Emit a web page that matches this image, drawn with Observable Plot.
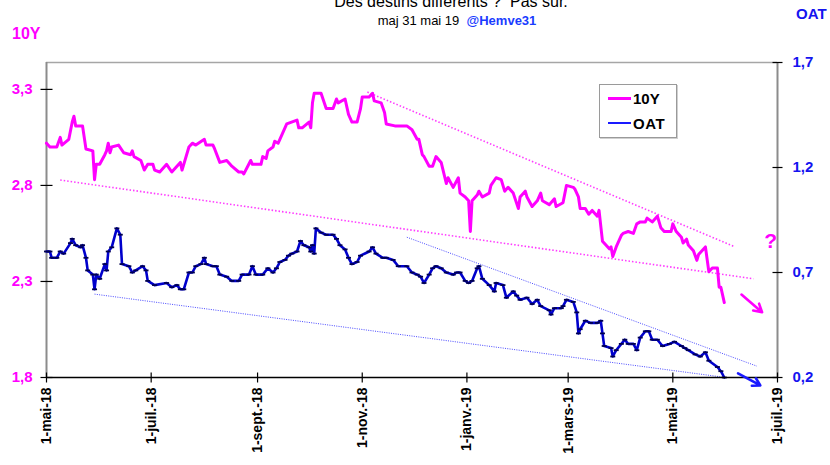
<!DOCTYPE html>
<html><head><meta charset="utf-8">
<script src="https://cdn.jsdelivr.net/npm/d3@7"></script>
<script src="https://cdn.jsdelivr.net/npm/@observablehq/plot@0.6"></script>
<style>
body{margin:0;background:#fff;font-family:"Liberation Sans",Arial,sans-serif;}
#wrap{position:relative;width:830px;height:465px;overflow:hidden;background:#fff;}
.ov{position:absolute;white-space:pre;line-height:1;}
</style></head><body><div id="wrap"></div>
<script>
// ---------- data ----------
const tenYDates = ["2018-05-01","2018-05-03","2018-05-07","2018-05-09","2018-05-10","2018-05-14","2018-05-16","2018-05-17","2018-05-18","2018-05-22","2018-05-24","2018-05-28","2018-05-29","2018-05-30","2018-06-01","2018-06-04","2018-06-05","2018-06-06","2018-06-07","2018-06-08","2018-06-12","2018-06-15","2018-06-19","2018-06-20","2018-06-21","2018-06-25","2018-06-27","2018-06-29","2018-07-02","2018-07-03","2018-07-06","2018-07-10","2018-07-13","2018-07-18","2018-07-19","2018-07-23","2018-07-25","2018-07-27","2018-08-01","2018-08-02","2018-08-06","2018-08-07","2018-08-10","2018-08-14","2018-08-16","2018-08-17","2018-08-21","2018-08-23","2018-08-24","2018-08-28","2018-08-29","2018-09-03","2018-09-04","2018-09-06","2018-09-07","2018-09-10","2018-09-11","2018-09-13","2018-09-14","2018-09-18","2018-09-24","2018-09-25","2018-09-27","2018-10-01","2018-10-02","2018-10-03","2018-10-04","2018-10-08","2018-10-11","2018-10-15","2018-10-17","2018-10-18","2018-10-22","2018-10-24","2018-10-26","2018-10-29","2018-10-31","2018-11-01","2018-11-05","2018-11-07","2018-11-08","2018-11-12","2018-11-14","2018-11-15","2018-11-20","2018-11-23","2018-11-27","2018-11-30","2018-12-03","2018-12-04","2018-12-06","2018-12-07","2018-12-10","2018-12-12","2018-12-14","2018-12-17","2018-12-20","2018-12-21","2018-12-24","2018-12-27","2018-12-28","2018-12-31","2019-01-02","2019-01-03","2019-01-04","2019-01-07","2019-01-08","2019-01-10","2019-01-14","2019-01-15","2019-01-18","2019-01-21","2019-01-23","2019-01-25","2019-01-28","2019-01-31","2019-02-01","2019-02-04","2019-02-05","2019-02-08","2019-02-11","2019-02-13","2019-02-14","2019-02-18","2019-02-21","2019-02-22","2019-02-26","2019-02-28","2019-03-04","2019-03-05","2019-03-07","2019-03-08","2019-03-11","2019-03-13","2019-03-15","2019-03-18","2019-03-19","2019-03-21","2019-03-25","2019-03-26","2019-03-27","2019-03-29","2019-04-01","2019-04-02","2019-04-05","2019-04-08","2019-04-10","2019-04-12","2019-04-15","2019-04-16","2019-04-19","2019-04-22","2019-04-24","2019-04-26","2019-04-30","2019-05-01","2019-05-03","2019-05-06","2019-05-07","2019-05-09","2019-05-10","2019-05-13","2019-05-15","2019-05-16","2019-05-20","2019-05-22","2019-05-24","2019-05-27","2019-05-28","2019-05-29","2019-05-31"];
const tenYValues = [3.02,3.00,3.00,3.05,3.01,3.04,3.13,3.16,3.11,3.11,2.99,2.98,2.83,2.91,2.91,2.96,2.98,3.02,2.97,3.00,3.01,2.97,2.96,2.98,2.95,2.93,2.88,2.91,2.91,2.88,2.87,2.91,2.87,2.92,2.88,3.00,3.02,3.01,3.04,3.01,3.01,2.99,2.92,2.93,2.91,2.90,2.87,2.87,2.86,2.93,2.91,2.91,2.95,2.94,2.98,3.00,3.03,3.02,3.04,3.12,3.14,3.10,3.10,3.13,3.10,3.23,3.28,3.28,3.20,3.20,3.25,3.23,3.25,3.17,3.13,3.13,3.20,3.26,3.26,3.28,3.24,3.23,3.18,3.12,3.11,3.11,3.11,3.09,3.04,3.04,2.96,2.95,2.90,2.90,2.95,2.92,2.81,2.84,2.79,2.84,2.76,2.74,2.72,2.56,2.72,2.75,2.77,2.74,2.76,2.80,2.84,2.83,2.77,2.79,2.76,2.68,2.74,2.77,2.74,2.69,2.72,2.76,2.72,2.70,2.73,2.69,2.71,2.80,2.79,2.78,2.74,2.68,2.68,2.65,2.67,2.64,2.67,2.51,2.47,2.48,2.43,2.48,2.54,2.55,2.56,2.55,2.60,2.61,2.61,2.63,2.61,2.64,2.58,2.56,2.56,2.60,2.56,2.53,2.50,2.52,2.49,2.46,2.41,2.44,2.48,2.35,2.37,2.37,2.27,2.27,2.19];

const oatDates = ["2018-05-01","2018-05-03","2018-05-04","2018-05-07","2018-05-09","2018-05-11","2018-05-15","2018-05-16","2018-05-18","2018-05-21","2018-05-22","2018-05-24","2018-05-25","2018-05-28","2018-05-29","2018-05-30","2018-06-01","2018-06-04","2018-06-05","2018-06-06","2018-06-08","2018-06-11","2018-06-13","2018-06-14","2018-06-18","2018-06-20","2018-06-22","2018-06-26","2018-06-28","2018-06-29","2018-07-03","2018-07-10","2018-07-13","2018-07-16","2018-07-18","2018-07-20","2018-07-23","2018-07-25","2018-07-27","2018-07-30","2018-08-01","2018-08-02","2018-08-06","2018-08-08","2018-08-10","2018-08-14","2018-08-17","2018-08-21","2018-08-23","2018-08-27","2018-08-29","2018-08-31","2018-09-04","2018-09-07","2018-09-10","2018-09-12","2018-09-14","2018-09-17","2018-09-19","2018-09-21","2018-09-24","2018-09-26","2018-09-28","2018-10-01","2018-10-02","2018-10-03","2018-10-04","2018-10-05","2018-10-08","2018-10-11","2018-10-15","2018-10-17","2018-10-19","2018-10-22","2018-10-24","2018-10-26","2018-10-29","2018-10-31","2018-11-05","2018-11-07","2018-11-09","2018-11-13","2018-11-15","2018-11-19","2018-11-22","2018-11-27","2018-11-30","2018-12-03","2018-12-05","2018-12-07","2018-12-10","2018-12-12","2018-12-14","2018-12-17","2018-12-20","2018-12-24","2018-12-26","2018-12-28","2018-12-31","2019-01-02","2019-01-04","2019-01-07","2019-01-08","2019-01-10","2019-01-14","2019-01-17","2019-01-18","2019-01-22","2019-01-24","2019-01-28","2019-01-30","2019-02-01","2019-02-05","2019-02-08","2019-02-11","2019-02-13","2019-02-18","2019-02-19","2019-02-21","2019-02-25","2019-02-26","2019-02-28","2019-03-04","2019-03-06","2019-03-07","2019-03-08","2019-03-11","2019-03-14","2019-03-18","2019-03-20","2019-03-21","2019-03-22","2019-03-26","2019-03-27","2019-03-29","2019-04-01","2019-04-03","2019-04-05","2019-04-08","2019-04-10","2019-04-12","2019-04-15","2019-04-17","2019-04-19","2019-04-22","2019-04-25","2019-04-29","2019-05-02","2019-05-06","2019-05-08","2019-05-10","2019-05-14","2019-05-17","2019-05-20","2019-05-22","2019-05-27","2019-05-29","2019-05-31"];
const oatValues = [0.80,0.80,0.77,0.77,0.80,0.79,0.84,0.86,0.83,0.82,0.83,0.77,0.71,0.69,0.62,0.69,0.67,0.74,0.71,0.80,0.82,0.91,0.88,0.74,0.73,0.70,0.71,0.73,0.71,0.66,0.64,0.65,0.63,0.64,0.62,0.62,0.70,0.70,0.73,0.74,0.77,0.74,0.73,0.73,0.69,0.68,0.66,0.66,0.69,0.69,0.73,0.69,0.69,0.72,0.70,0.72,0.75,0.76,0.78,0.79,0.80,0.85,0.83,0.82,0.80,0.83,0.79,0.91,0.89,0.88,0.88,0.86,0.83,0.81,0.77,0.74,0.75,0.78,0.80,0.82,0.79,0.77,0.77,0.76,0.73,0.73,0.70,0.69,0.68,0.65,0.69,0.72,0.73,0.72,0.70,0.69,0.70,0.70,0.66,0.65,0.66,0.72,0.73,0.67,0.64,0.61,0.65,0.64,0.58,0.61,0.59,0.57,0.58,0.55,0.57,0.54,0.52,0.50,0.53,0.53,0.54,0.57,0.56,0.51,0.41,0.43,0.47,0.46,0.46,0.47,0.41,0.35,0.34,0.30,0.33,0.36,0.38,0.36,0.36,0.33,0.39,0.42,0.42,0.38,0.38,0.35,0.36,0.37,0.35,0.34,0.33,0.31,0.30,0.32,0.28,0.25,0.23,0.20];

// dotted trend lines (series, start, end)
const trendSeries = ["10Y","10Y","OAT","OAT"];
const trendStartDates = ["2018-05-09","2018-11-04","2018-05-29","2018-11-27"];
const trendStartValues = [2.828,3.286,0.597,0.868];
const trendEndDates = ["2019-06-17","2019-06-06","2019-05-31","2019-06-19"];
const trendEndValues = [2.314,2.481,0.201,0.254];

// arrows
const arrowSeries = ["10Y","OAT"];
const arrowStartDates = ["2019-06-10","2019-06-08"];
const arrowStartValues = [2.232,0.220];
const arrowEndDates = ["2019-06-22","2019-06-21"];
const arrowEndValues = [2.140,0.162];

// question mark annotation
const noteDates = ["2019-06-27"];
const noteValues = [2.51];
const noteTexts = ["?"];

// axes
const leftDomain = [1.8, 3.44];
const rightDomain = [0.2, 1.7];
const leftTicks = [1.8, 2.3, 2.8, 3.3];
const rightTicks = [0.2, 0.7, 1.2, 1.7];
const xDomainDates = ["2018-05-01","2019-07-01"];
const xTickDates = ["2018-05-01","2018-07-01","2018-09-01","2018-11-01","2019-01-01","2019-03-01","2019-05-01","2019-07-01"];
const xTickLabels = ["1-mai-18","1-juil.-18","1-sept.-18","1-nov.-18","1-janv.-19","1-mars-19","1-mai-19","1-juil.-19"];

// ---------- build ----------
const parse = d3.utcParse("%Y-%m-%d");
const MAG = "#ff00ff", BLUE = "#0000cc", RBLUE = "#1414f0";
const k = (leftDomain[1]-leftDomain[0])/(rightDomain[1]-rightDomain[0]);
const toLeft = o => leftDomain[0] + (o - rightDomain[0]) * k;
const fromLeft = v => rightDomain[0] + (v - leftDomain[0]) / k;
const comma = v => v.toFixed(1).replace(".", ",");
const xDomain = xDomainDates.map(parse);

const tenY = tenYDates.map((d,i)=>({date: parse(d), value: tenYValues[i]}));
const oat = oatDates.map((d,i)=>({date: parse(d), value: toLeft(oatValues[i])}));
const conv = (s, v) => s === "OAT" ? toLeft(v) : v;
const trends = trendSeries.map((s,i)=>({s, x1: parse(trendStartDates[i]), y1: conv(s, trendStartValues[i]), x2: parse(trendEndDates[i]), y2: conv(s, trendEndValues[i])}));
const arrows = arrowSeries.map((s,i)=>({s, x1: parse(arrowStartDates[i]), y1: conv(s, arrowStartValues[i]), x2: parse(arrowEndDates[i]), y2: conv(s, arrowEndValues[i])}));
const notes = noteDates.map((d,i)=>({date: parse(d), value: noteValues[i], text: noteTexts[i]}));
const labelOf = new Map(xTickDates.map((d,i)=>[+parse(d), xTickLabels[i]]));

const sym = (x1,y1,x2,y2) => ({draw(ctx){ ctx.moveTo(x1,y1); ctx.lineTo(x2,y2); }});
const hTick = sym(-6,0,6,0), hTickR = sym(-5,0,5,0), vTick = sym(0,-5,0,5), dash = sym(-2.5,0,2.5,0);

const chart = Plot.plot({
  width: 830, height: 465,
  marginTop: 62, marginBottom: 88, marginLeft: 46, marginRight: 53,
  x: {type: "utc", domain: xDomain, axis: null},
  y: {domain: leftDomain, axis: null},
  style: {fontFamily: "'Liberation Sans', Arial, sans-serif", background: "white", overflow: "visible"},
  marks: [
    Plot.ruleY([leftDomain[1]], {stroke: "#a6a6a6", strokeWidth: 1.3}),
    Plot.ruleX([xDomain[0]], {stroke: "#8c8c8c", strokeWidth: 2}),
    Plot.ruleX([xDomain[1]], {stroke: "#8c8c8c", strokeWidth: 2}),
    Plot.link(trends.filter(d=>d.s==="10Y"), {x1:"x1", y1:"y1", x2:"x2", y2:"y2", stroke: "#ff3cff", strokeWidth: 1.6, strokeDasharray: "1.5 2"}),
    Plot.link(trends.filter(d=>d.s==="OAT"), {x1:"x1", y1:"y1", x2:"x2", y2:"y2", stroke: "#4a4aff", strokeWidth: 1, strokeDasharray: "1 1.3"}),
    Plot.line(oat, {x: "date", y: "value", stroke: BLUE, strokeWidth: 2.6}),
    Plot.dot(oat, {x: "date", y: "value", symbol: dash, fill: "none", stroke: "#000050", strokeWidth: 1.8}),
    Plot.line(tenY, {x: "date", y: "value", stroke: MAG, strokeWidth: 3}),
    Plot.ruleY([leftDomain[0]], {stroke: "black", strokeWidth: 1.5}),
    Plot.dot(leftTicks, {x: () => xDomain[0], y: d => d, symbol: hTick, fill: "none", stroke: "black", strokeWidth: 1.2}),
    Plot.dot(rightTicks, {x: () => xDomain[1], y: d => toLeft(d), symbol: hTickR, fill: "none", stroke: "black", strokeWidth: 1.2}),
    Plot.dot(xTickDates.map(parse), {x: d => d, y: () => leftDomain[0], symbol: vTick, fill: "none", stroke: "black", strokeWidth: 1.2}),
    Plot.arrow(arrows.filter(d=>d.s==="10Y"), {x1:"x1", y1:"y1", x2:"x2", y2:"y2", stroke: MAG, strokeWidth: 2.6, headLength: 11}),
    Plot.arrow(arrows.filter(d=>d.s==="OAT"), {x1:"x1", y1:"y1", x2:"x2", y2:"y2", stroke: "#1a1aff", strokeWidth: 2.6, headLength: 11}),
    Plot.text(notes, {x: "date", y: "value", text: "text", fill: MAG, fontSize: 21, fontWeight: "bold"}),
    Plot.axisY({anchor: "left", ticks: leftTicks, tickSize: 0, tickPadding: 14, tickFormat: comma, color: MAG, fontSize: 15, fontWeight: "bold"}),
    Plot.axisY({anchor: "right", ticks: rightTicks.map(toLeft), tickSize: 0, tickPadding: 15, tickFormat: v => comma(fromLeft(v)), color: RBLUE, fontSize: 15, fontWeight: "bold"}),
    Plot.axisX({anchor: "bottom", ticks: xTickDates.map(parse), tickSize: 0, tickPadding: 10, tickRotate: -90, tickFormat: d => labelOf.get(+d), color: "black", fontSize: 14, fontWeight: "bold"})
  ]
});

const wrap = document.getElementById("wrap");
wrap.appendChild(chart);

function ov(html, css){ const d = document.createElement("div"); d.className = "ov"; d.innerHTML = html; Object.assign(d.style, css); wrap.appendChild(d); return d; }
ov("Des destins différents ?  Pas sûr.", {left: "451px", top: "-6.5px", fontSize: "16px", color: "#000", transform: "translateX(-50%)"});
ov('maj 31 mai 19  <b style="color:#1a3cff">@Hemve31</b>', {left: "457px", top: "14px", fontSize: "13px", color: "#000", transform: "translateX(-50%)"});
ov("10Y", {left: "12px", top: "26px", fontSize: "16px", fontWeight: "bold", color: MAG});
ov("OAT", {left: "796px", top: "6px", fontSize: "15px", fontWeight: "bold", color: RBLUE});
// legend
ov("", {left: "599px", top: "84px", width: "76px", height: "52px", border: "1px solid #9a9a9a", background: "#fff", boxShadow: "1px 1px 0 #d0d0d0"});
ov("", {left: "608px", top: "96.5px", width: "23px", height: "3px", background: MAG});
ov("", {left: "608px", top: "121.7px", width: "23px", height: "2px", background: "#1a1aff"});
ov("10Y", {left: "633px", top: "91px", fontSize: "15px", fontWeight: "bold", color: "#000"});
ov("OAT", {left: "633px", top: "115.5px", fontSize: "15px", fontWeight: "bold", color: "#000", letterSpacing: "0.5px"});
</script></body></html>
